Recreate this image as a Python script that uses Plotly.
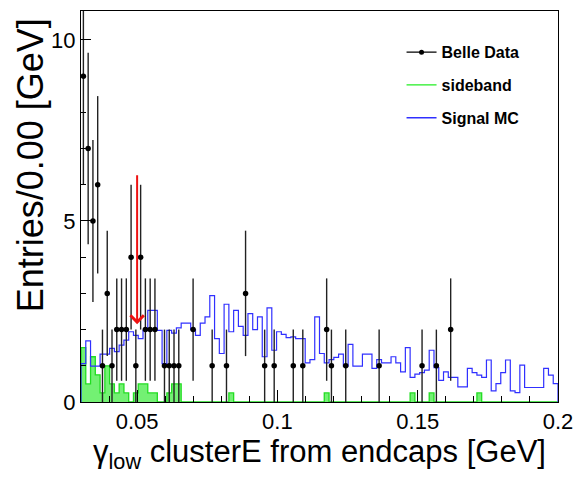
import numpy as np
import plotly.graph_objects as go

# ---------------- data ----------------
x_min, x_max = 0.03, 0.2
n_bins = 100

data_counts = [
    9, 7, 5, 6, 1, 3, 1, 2, 2, 2,
    4, 1, 4, 2, 2, 2, 0, 1, 1, 1,
    1, 0, 0, 2, 0, 0, 0, 1, 0, 0,
    1, 0, 0, 0, 3, 0, 0, 0, 1, 0,
    1, 0, 0, 0, 1, 0, 1, 0, 0, 0,
    0, 2, 1, 0, 0, 1, 0, 0, 0, 0,
    0, 0, 1, 0, 0, 0, 0, 0, 0, 0,
    0, 1, 0, 0, 1, 0, 0, 2, 0, 0,
    0, 0, 0, 0, 0, 0, 0, 0, 0, 0,
    0, 0, 0, 0, 0, 0, 0, 0, 0, 0,
]

sideband = [
    1.5, 0.5, 1.25, 0.75, 0.25, 1.0, 0.5, 0.25, 0.5, 0.25,
    0, 0.25, 0.5, 0.5, 0.25, 0.25, 0, 0, 0.25, 0.5,
    0.5, 0, 0, 0, 0, 0, 0, 0, 0, 0,
    0, 0.25, 0, 0, 0, 0, 0, 0, 0, 0,
    0, 0, 0, 0, 0, 0, 0, 0, 0, 0,
    0, 0.25, 0, 0, 0, 0, 0, 0, 0, 0,
    0, 0, 0, 0, 0, 0, 0, 0, 0, 0.25,
    0, 0, 0, 0.25, 0, 0, 0, 0, 0, 0,
    0, 0, 0, 0.25, 0, 0, 0, 0, 0, 0,
    0, 0, 0, 0, 0, 0, 0, 0, 0, 0,
]

signal_mc = [
    1.06, 1.69, 0.99, 0.99, 1.32, 1.32, 1.48, 1.39, 1.57, 1.71,
    1.94, 1.84, 1.75, 1.98, 2.53, 2.53, 1.98, 1.06, 1.98, 1.90,
    2.05, 2.18, 2.18, 2.00, 1.84, 2.18, 2.35, 2.94, 1.75, 1.34,
    2.70, 1.94, 2.53, 2.09, 1.84, 2.44, 2.00, 2.35, 1.25, 2.60,
    1.43, 1.94, 1.87, 1.78, 1.80, 1.75, 1.75, 1.08, 1.17, 2.35,
    1.34, 1.08, 1.17, 1.23, 1.32, 0.99, 1.59, 0.99, 0.99, 1.32,
    1.32, 0.93, 1.17, 1.08, 1.08, 1.25, 1.08, 0.83, 1.50, 0.68,
    0.77, 0.81, 0.88, 1.43, 0.95, 0.60, 0.83, 0.68, 0.68, 0.42,
    0.42, 0.93, 0.81, 0.74, 0.68, 1.16, 0.31, 0.51, 0.81, 1.16,
    0.31, 0.26, 1.02, 0.40, 0.40, 0.40, 0.40, 0.93, 0.74, 0.51,
]

cut_x = 0.05
arrow_top = 6.5
arrow_tip = 2.15

x_tick_vals = [0.05, 0.1, 0.15, 0.2]
x_tick_text = ["0.05", "0.1", "0.15", "0.2"]
y_tick_vals = [0, 5, 10]
y_tick_text = ["0", "5", "10"]

# ---------------- helpers ----------------
edges = np.linspace(x_min, x_max, n_bins + 1)
centers = 0.5 * (edges[:-1] + edges[1:])


def step_xy(vals):
    xs = [edges[0]] + list(edges[:-1]) + [edges[-1], edges[-1]]
    ys = [0] + list(vals) + [vals[-1], 0]
    return xs, ys


FONT = "Liberation Sans, Arial, Helvetica, sans-serif"

fig = go.Figure()

# sideband (filled green)
sx, sy = step_xy(sideband)
fig.add_trace(go.Scatter(
    x=sx, y=sy, mode="lines", line=dict(shape="hv", color="#22dd22", width=1.3),
    fill="tozeroy", fillcolor="rgba(100,240,100,0.9)", showlegend=False,
    hoverinfo="skip"))

# signal MC (blue step)
mx, my = step_xy(signal_mc)
fig.add_trace(go.Scatter(
    x=mx, y=my, mode="lines", line=dict(shape="hv", color="#3030ff", width=1.2),
    showlegend=False, hoverinfo="skip"))

# data points
counts = np.array(data_counts, dtype=float)
mask = counts > 0
fig.add_trace(go.Scatter(
    x=centers[mask], y=counts[mask], mode="markers",
    marker=dict(color="black", size=5.5),
    error_y=dict(type="data", array=np.sqrt(counts[mask]), width=0,
                 thickness=1.4, color="#222222"),
    showlegend=False))

# legend entries
fig.add_trace(go.Scatter(x=[None], y=[None], mode="lines+markers", name="Belle Data",
                         line=dict(color="black", width=1.3),
                         marker=dict(color="black", size=5),
                         legendgroup="a", legendrank=1))
fig.add_trace(go.Scatter(x=[None], y=[None], mode="lines", name="sideband",
                         line=dict(color="#22ee22", width=1.3),
                         legendgroup="b", legendrank=2))
fig.add_trace(go.Scatter(x=[None], y=[None], mode="lines", name="Signal MC",
                         line=dict(color="#3030ff", width=1.3),
                         legendgroup="c", legendrank=3))

# red arrow at the cut
fig.add_annotation(x=cut_x, y=arrow_tip, ax=cut_x, ay=arrow_top,
                   xref="x", yref="y", axref="x", ayref="y",
                   showarrow=True, arrowhead=4, arrowsize=1.3, arrowwidth=2,
                   arrowcolor="#ee1111", text=" ", standoff=0)

# y-axis title (top aligned as ROOT does)
fig.add_annotation(text="Entries/0.00 [GeV]", xref="paper", yref="paper",
                   x=-0.105, y=0.605, xanchor="center", yanchor="middle",
                   textangle=-90, showarrow=False,
                   font=dict(family=FONT, size=36, color="black"))

fig.update_layout(
    width=583, height=479,
    margin=dict(l=81, r=18, t=10, b=77),
    paper_bgcolor="white", plot_bgcolor="white",
    font=dict(family=FONT, color="black"),
    legend=dict(x=0.672, y=0.938, xanchor="left", yanchor="top",
                bgcolor="rgba(0,0,0,0)", borderwidth=0,
                traceorder="grouped", tracegroupgap=9,
                font=dict(family=FONT, size=16, color="black", weight="bold")),
    xaxis=dict(range=[x_min, x_max], tickvals=x_tick_vals, ticktext=x_tick_text,
               ticks="inside", ticklen=12, tickwidth=1, tickcolor="black",
               showline=True, mirror=True, linecolor="black", linewidth=1,
               showgrid=False, zeroline=False,
               minor=dict(dtick=0.01, tick0=0.0, ticks="inside", ticklen=6,
                          tickcolor="black", showgrid=False),
               tickfont=dict(family=FONT, size=22, color="black"),
               title=dict(text="γ<sub>low</sub> clusterE from endcaps [GeV]",
                          font=dict(family=FONT, size=31, color="black"),
                          standoff=2)),
    yaxis=dict(range=[0, 10.8], tickvals=y_tick_vals, ticktext=y_tick_text,
               ticks="inside", ticklen=10, tickwidth=1, tickcolor="black",
               showline=True, mirror=True, linecolor="black", linewidth=1,
               showgrid=False, zeroline=False,
               minor=dict(dtick=1, tick0=0, ticks="inside", ticklen=5,
                          tickcolor="black", showgrid=False),
               tickfont=dict(family=FONT, size=22, color="black")),
)

fig.write_html("out.html")
